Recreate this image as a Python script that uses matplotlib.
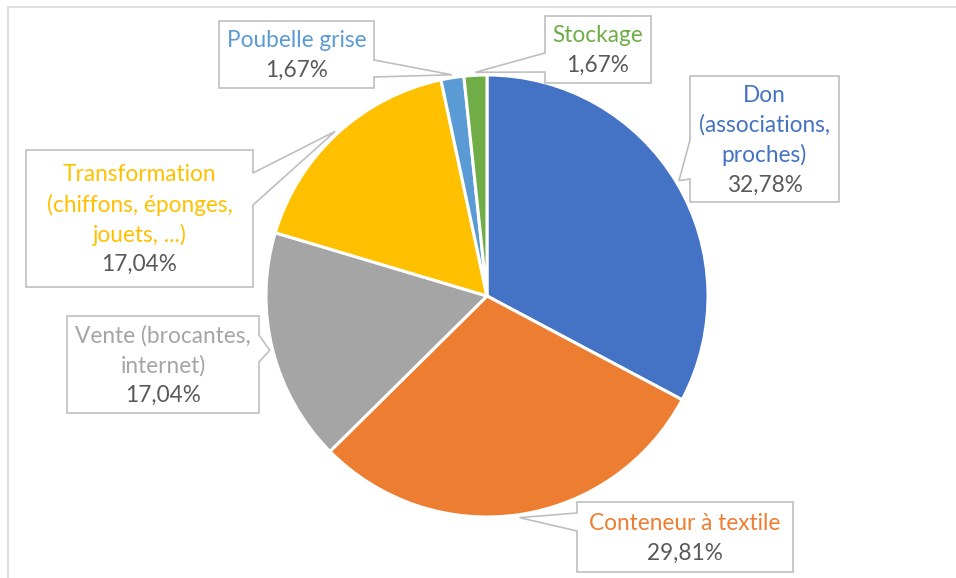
import numpy as np
import matplotlib
matplotlib.use("Agg")
import matplotlib.pyplot as plt
from matplotlib.patches import Polygon
from matplotlib.lines import Line2D

# Chart data
labels = [
    "Don\n(associations,\nproches)",
    "Conteneur à textile",
    "Vente (brocantes,\ninternet)",
    "Transformation\n(chiffons, éponges,\njouets, ...)",
    "Poubelle grise",
    "Stockage",
]
values = [32.78, 29.81, 17.04, 17.04, 1.67, 1.67]
colors = ["#4472C4", "#ED7D31", "#A5A5A5", "#FFC000", "#5B9BD5", "#70AD47"]

W, H = 956, 578
CX, CY, R = 487, 296, 221      # pie centre / radius in pixels (y from top)

# Callout boxes in pixels: x0, y0, x1, y1, side of pointer, pointer base start/end
boxes = [
    (690, 76, 839, 202, "left", 140, 179),
    (577, 502, 793, 572, "left", 513, 531),
    (67, 316, 259, 413, "right", 335, 362),
    (26, 150, 253, 287, "right", 173, 205),
    (219, 21, 374, 88, "right", 60, 77),
    (545, 16, 651, 83, "left", 53, 72),
]

plt.rcParams["font.family"] = ["Lato", "DejaVu Sans"]

fig = plt.figure(figsize=(W / 100, H / 100), dpi=100)
ax = fig.add_axes([0, 0, 1, 1])

wedges, _ = ax.pie(values, colors=colors, startangle=90, counterclock=False,
                   center=(CX, H - CY), radius=R,
                   wedgeprops=dict(edgecolor="white", linewidth=2.2))
ax.set_xlim(0, W)
ax.set_ylim(0, H)
ax.set_aspect("equal")
ax.axis("off")


def fy(y):
    return H - y


for w, lab, val, col, box in zip(wedges, labels, values, colors, boxes):
    x0, y0, x1, y1, side, b0, b1 = box
    # tip of the callout sits just outside the slice, at its mid angle
    th = np.deg2rad((w.theta1 + w.theta2) / 2)
    tip = (CX + 224 * np.cos(th), H - CY + 224 * np.sin(th))

    pts = [(x0, fy(y0)), (x1, fy(y0))]
    if side == "right":
        pts += [(x1, fy(b0)), tip, (x1, fy(b1))]
    pts += [(x1, fy(y1)), (x0, fy(y1))]
    if side == "left":
        pts += [(x0, fy(b1)), tip, (x0, fy(b0))]
    ax.add_patch(Polygon(pts, closed=True, facecolor="white",
                         edgecolor="#BFBFBF", linewidth=1.2, zorder=3))

    lines = lab.split("\n") + [f"{val:.2f}".replace(".", ",") + "%"]
    n = len(lines)
    cy = (y0 + y1) / 2 + 1
    for i, txt in enumerate(lines):
        c = col if i < n - 1 else "#595959"
        ax.text((x0 + x1) / 2, fy(cy + (i - (n - 1) / 2) * 30), txt,
                ha="center", va="center", fontsize=16.3, color=c, zorder=4)

# outer chart frame (cropped on the right and bottom)
fig.add_artist(Line2D([8 / W, 1], [1 - 7 / H, 1 - 7 / H], color="#D9D9D9",
                      linewidth=1.2, transform=fig.transFigure))
fig.add_artist(Line2D([8 / W, 8 / W], [0, 1 - 7 / H], color="#D9D9D9",
                      linewidth=1.2, transform=fig.transFigure))

fig.savefig("out.png", dpi=100)
